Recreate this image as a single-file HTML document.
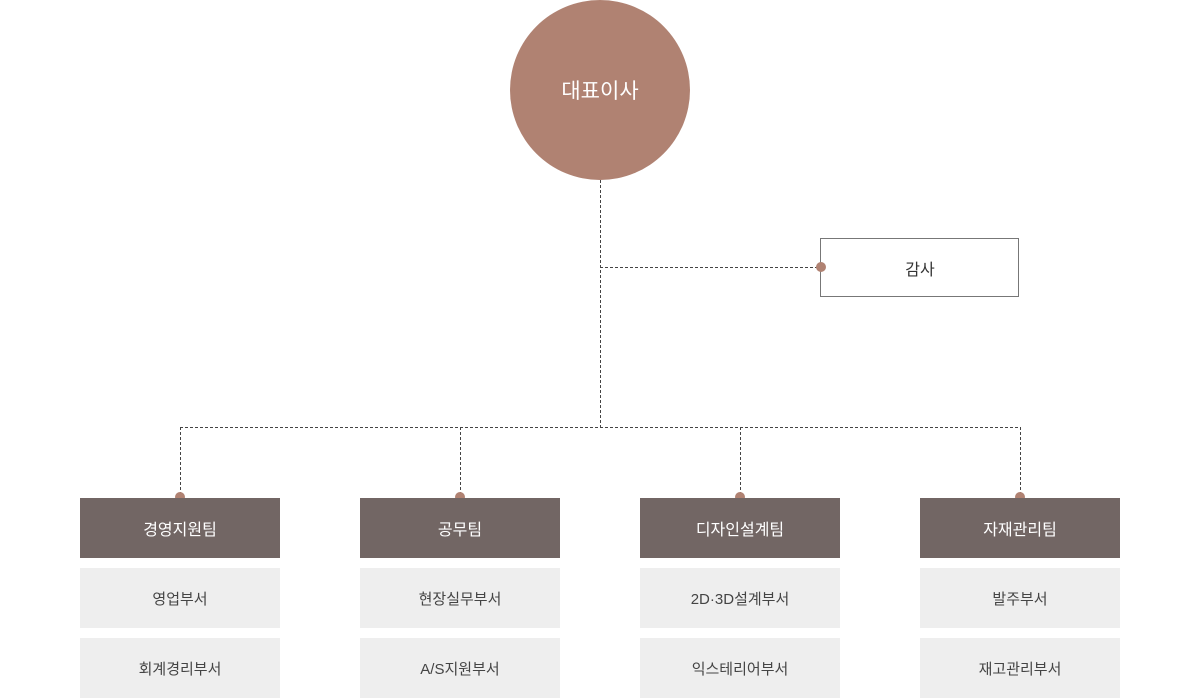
<!DOCTYPE html>
<html><head><meta charset="utf-8"><style>
body{margin:0;width:1200px;height:698px;background:#fff;position:relative;overflow:hidden;font-family:"Liberation Sans","Noto Sans CJK KR",sans-serif}
.a{position:absolute;display:flex;align-items:center;justify-content:center;box-sizing:border-box}
.t{background:#726664;color:#fff;font-size:16px;width:200px;height:60px;top:498px}
.s{background:#eeeeee;color:#444;font-size:15px;width:200px;height:60px}
svg{position:absolute;left:0;top:0}
</style></head><body>
<svg width="1200" height="698">
<g stroke="#444" stroke-width="1" stroke-dasharray="3,2" fill="none">
<line x1="600.5" y1="180" x2="600.5" y2="427"/>
<line x1="600" y1="267.5" x2="820" y2="267.5"/>
<line x1="180" y1="427.5" x2="1020" y2="427.5"/>
<line x1="180.5" y1="427" x2="180.5" y2="497"/>
<line x1="460.5" y1="427" x2="460.5" y2="497"/>
<line x1="740.5" y1="427" x2="740.5" y2="497"/>
<line x1="1020.5" y1="427" x2="1020.5" y2="497"/>
</g>
<circle cx="600" cy="90" r="90" fill="#b08272"/>
<rect x="820.5" y="238.5" width="198" height="58" fill="#fff" stroke="#777"/>
<g fill="#b08272">
<circle cx="821" cy="267" r="5"/>
<circle cx="180" cy="497" r="5"/><circle cx="460" cy="497" r="5"/><circle cx="740" cy="497" r="5"/><circle cx="1020" cy="497" r="5"/>
</g>
</svg>
<div class="a" style="left:510px;top:0;width:180px;height:180px;color:#fff;font-size:21px">대표이사</div>
<div class="a" style="left:820px;top:238px;width:200px;height:59px;color:#333;font-size:16px">감사</div>
<div class="a t" style="left:80px">경영지원팀</div>
<div class="a t" style="left:360px">공무팀</div>
<div class="a t" style="left:640px">디자인설계팀</div>
<div class="a t" style="left:920px">자재관리팀</div>
<div class="a s" style="left:80px;top:568px">영업부서</div>
<div class="a s" style="left:360px;top:568px">현장실무부서</div>
<div class="a s" style="left:640px;top:568px">2D·3D설계부서</div>
<div class="a s" style="left:920px;top:568px">발주부서</div>
<div class="a s" style="left:80px;top:638px">회계경리부서</div>
<div class="a s" style="left:360px;top:638px">A/S지원부서</div>
<div class="a s" style="left:640px;top:638px">익스테리어부서</div>
<div class="a s" style="left:920px;top:638px">재고관리부서</div>
</body></html>
